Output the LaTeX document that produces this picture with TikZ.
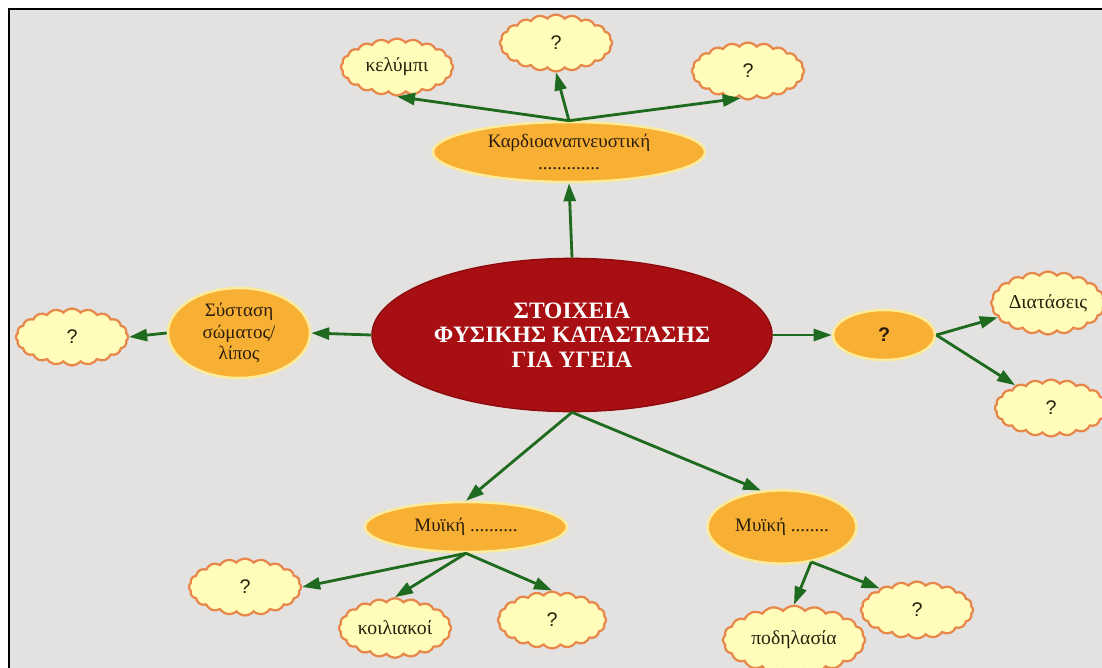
\documentclass[tikz,border=0pt]{standalone}
\usepackage{fontspec}
\setmainfont{Liberation Serif}
\setsansfont{Liberation Sans}
\usepackage{xcolor}
\usetikzlibrary{positioning, arrows.meta, shapes.geometric, shapes.symbols}

\definecolor{paper}{HTML}{E3E2E0}
\definecolor{corered}{HTML}{A80F12}
\definecolor{coreedge}{HTML}{8E0B0D}
\definecolor{topicfill}{HTML}{F7B034}
\definecolor{topicedge}{HTML}{FCEB9A}
\definecolor{cloudfill}{HTML}{FFFDB9}
\definecolor{cloudedge}{HTML}{E8874A}
\definecolor{arrowgreen}{HTML}{1E6A1E}
\definecolor{inkdark}{HTML}{2B1E0E}

\begin{document}
\begin{tikzpicture}[
    x=0.025cm, y=-0.025cm,
    core/.style={ellipse, draw=coreedge, line width=1pt, fill=corered, inner sep=0pt, align=center, text=white, font=\fontsize{16.7}{17.5}\selectfont\bfseries},
    topic/.style={ellipse, draw=topicedge, line width=1.8pt, fill=topicfill, inner sep=0pt, align=center, text=inkdark, font=\fontsize{13.5}{15.5}\selectfont},
    idea/.style={cloud, cloud puffs=20, cloud puff arc=100, aspect=2, draw=cloudedge, line width=1.6pt, fill=cloudfill, inner sep=0pt, text=inkdark, font=\fontsize{14}{15}\selectfont, minimum width=2.8cm, minimum height=1.42cm},
    arrow/.style={-{Triangle[length=4.5mm, width=3mm]}, line width=2pt, draw=arrowgreen}
]
    % Frame
    \clip (0,0) rectangle (1102,668);
    \fill[white] (0,0) rectangle (1102,668);
    \fill[paper] (9,9) rectangle (1102,668);
    \draw[black, line width=1pt] (9,668) -- (9,9) -- (1102,9);

    % Nodes
    \node[core, minimum width=10cm, minimum height=3.83cm] (core) at (572,335) {ΣΤΟΙΧΕΙΑ\\ΦΥΣΙΚΗΣ ΚΑΤΑΣΤΑΣΗΣ\\ΓΙΑ ΥΓΕΙΑ};

    \node[topic, minimum width=6.8cm, minimum height=1.5cm] (cardio) at (569,152) {Καρδιοαναπνευστική\\.............};
    \node[idea] (swim) at (397,67) {κελύμπι};
    \node[idea] (cardioq) at (556,43) {\sffamily ?};
    \node[idea] (cardior) at (748,71) {\sffamily ?};

    \node[topic, minimum width=3.55cm, minimum height=2.25cm] (body) at (239,333) {Σύσταση\\σώματος/\\λίπος};
    \node[idea] (bodyq) at (72,337) {\sffamily ?};

    \node[topic, minimum width=2.55cm, minimum height=1.25cm, font=\fontsize{14}{16}\selectfont\sffamily\bfseries] (flex) at (884,335) {?};
    \node[idea] (stretch) at (1048,303) {Διατάσεις};
    \node[idea] (flexq) at (1051,408) {\sffamily ?};

    \node[topic, minimum width=5.05cm, minimum height=1.25cm] (musa) at (466,527) {Μυϊκή ..........};
    \node[idea] (musaq) at (245,587) {\sffamily ?};
    \node[idea] (abs) at (395,628) {κοιλιακοί};
    \node[idea, minimum width=2.7cm] (musar) at (552,620) {\sffamily ?};

    \node[topic, minimum width=3.72cm, minimum height=1.83cm] (musb) at (782,527) {Μυϊκή ........};
    \node[idea, minimum width=3.55cm] (bike) at (794,640) {ποδηλασία};
    \node[idea] (musbq) at (917,610) {\sffamily ?};

    % Arrows
    \draw[arrow] (core.north) -- (cardio.south);
    \draw[arrow] (cardio.north) -- (swim.south);
    \draw[arrow] (cardio.north) -- (cardioq.south);
    \draw[arrow] (cardio.north) -- (cardior.255);

    \draw[arrow] (core.west) -- (body.east);
    \draw[arrow] (body.west) -- (bodyq.east);

    \draw[arrow] (core.east) -- (flex.west);
    \draw[arrow] (flex.east) -- (stretch);
    \draw[arrow] (flex.east) -- (flexq);

    \draw[arrow] (core.south) -- (musa.north);
    \draw[arrow] (core.south) -- (musb.120);
    \draw[arrow] (musa.south) -- (musaq.east);
    \draw[arrow] (musa.south) -- (abs.north);
    \draw[arrow] (musa.south) -- (musar.north);
    \draw[arrow] (musb.-50) -- (bike.north);
    \draw[arrow] (musb.-50) -- (musbq.150);

\end{tikzpicture}
\end{document}
